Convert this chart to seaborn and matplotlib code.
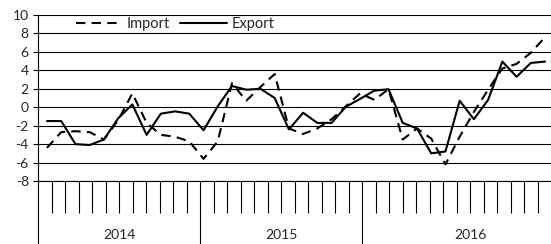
import numpy as np
import pandas as pd
import matplotlib
matplotlib.use("Agg")
import matplotlib.pyplot as plt
import matplotlib.transforms as mtransforms
import seaborn as sns

# monthly values, Jan 2014 .. Dec 2016
import_vals = [-4.4, -2.7, -2.6, -2.7, -3.5, -1.4, 1.5, -1.7, -3.0, -3.2, -3.7, -5.6,
               -3.7, 2.6, 0.7, 2.2, 3.6, -2.3, -2.9, -2.3, -1.3, 0.1, 1.5, 0.8,
               1.95, -3.5, -2.3, -3.4, -6.2, -3.2, -0.5, 1.9, 4.2, 4.7, 5.9, 7.6]
export_vals = [-1.5, -1.5, -4.0, -4.1, -3.5, -1.2, 0.3, -3.0, -0.7, -0.45, -0.7, -2.5,
               0.1, 2.3, 1.9, 2.0, 1.0, -2.4, -0.6, -1.7, -1.7, 0.05, 0.9, 1.8,
               1.95, -1.7, -2.3, -5.0, -4.8, 0.7, -1.3, 0.8, 4.95, 3.3, 4.8, 4.95]
years = ["2014", "2015", "2016"]
year_label_pos = [6, 18, 32]
year_bounds = [0, 12, 24]
y_ticks = [-8, -6, -4, -2, 0, 2, 4, 6, 8, 10]

months = np.arange(len(import_vals))
df = pd.DataFrame({
    "month": np.concatenate([months, months]),
    "value": import_vals + export_vals,
    "series": ["Import"] * len(months) + ["Export"] * len(months),
})

sns.set_style("white")
plt.rcParams["font.family"] = ["Lato", "DejaVu Sans"]
plt.rcParams["axes.unicode_minus"] = False

fig = plt.figure(figsize=(5.51, 2.44), dpi=100)
ax = fig.add_axes([38 / 551, 63 / 244, 513 / 551, 166 / 244])

# category axis: 38 slots, ticks on boundaries
ax.set_xlim(0, 38)
ax.set_ylim(-8, 10)
ax.set_yticks(y_ticks)
ax.set_yticklabels([str(v) for v in y_ticks], fontsize=10)
ax.yaxis.grid(True, color="black", linewidth=0.8)
ax.set_axisbelow(True)
ax.tick_params(axis="y", direction="out", length=3.6, width=0.8, pad=3, left=True, color="black")

ax.set_xticks(year_bounds)
ax.set_xticklabels([])
ax.set_xticks([i for i in range(1, 38) if i not in year_bounds], minor=True)
ax.tick_params(axis="x", which="major", direction="out", length=45.5, width=0.8, color="black", bottom=True)
ax.tick_params(axis="x", which="minor", direction="out", length=23, width=0.8, color="black", bottom=True)

for s in ["top", "right"]:
    ax.spines[s].set_visible(False)
for s in ["left", "bottom"]:
    ax.spines[s].set_color("black")
    ax.spines[s].set_linewidth(0.8)

trans = mtransforms.blended_transform_factory(ax.transData, ax.transAxes)
for pos, yr in zip(year_label_pos, years):
    ax.text(pos, -0.325, yr, transform=trans, ha="center", va="center", fontsize=10)

# lines on their own x scale
ax2 = ax.twiny()
sns.lineplot(data=df, x="month", y="value", style="series", color="black",
             dashes={"Import": (4.5, 3), "Export": ""}, linewidth=1.5, ax=ax2)
step = 14.23
left = -9 / step
ax2.set_xlim(left, left + 513 / step)
ax2.set_ylim(-8, 10)
ax2.set_xticks([])
ax2.set_xlabel("")
ax2.set_ylabel("")
ax.set_xlabel("")
ax.set_ylabel("")
for s in ax2.spines.values():
    s.set_visible(False)

handles, labels = ax2.get_legend_handles_labels()
for h in handles:
    h.set_color("black")
    h.set_linewidth(1.5)
ax2.legend(handles, labels, loc="center", bbox_to_anchor=(0.267, 0.946), ncol=2,
           frameon=False, fontsize=10.5, handlelength=3.2, handletextpad=0.3,
           columnspacing=0.7, borderpad=0)

fig.savefig("out.png", dpi=100)
